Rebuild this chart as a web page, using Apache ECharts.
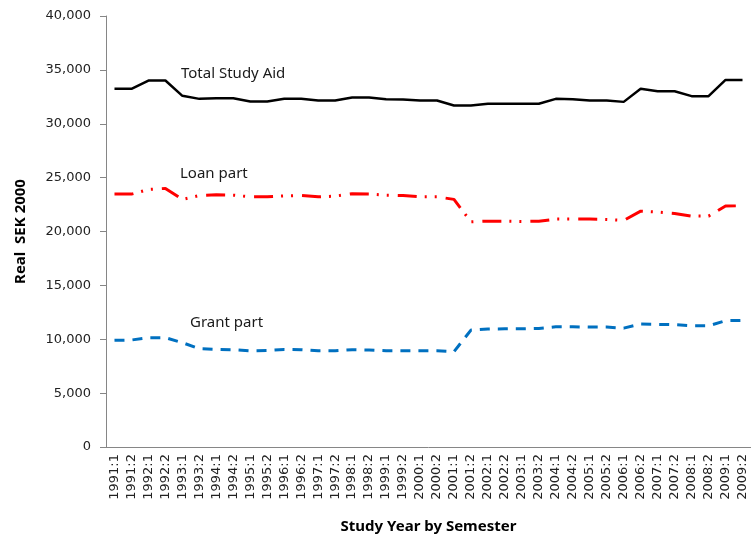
<!DOCTYPE html>
<html>
<head>
<meta charset="utf-8">
<script src="https://cdn.jsdelivr.net/npm/echarts@6/dist/echarts.min.js"></script>
<style>
  html, body { margin: 0; padding: 0; background: #fff; }
  #chart { width: 751px; height: 543px; }
</style>
</head>
<body>
<div id="chart"></div>
<script>
const years = [];
for (let y = 1991; y <= 2009; y++) { years.push(y + ':1', y + ':2'); }

const totalAid = [33240, 33240, 34010, 34010, 32590, 32310, 32370, 32370, 32070, 32070,
    32310, 32310, 32160, 32160, 32440, 32440, 32280, 32250, 32160, 32160,
    31700, 31700, 31850, 31850, 31850, 31850, 32310, 32280, 32160, 32160,
    32030, 33240, 33020, 33020, 32560, 32560, 34070, 34070];
const loanPart = [23470, 23470, 23900, 24000, 22980, 23340, 23400, 23370, 23220, 23220,
    23300, 23340, 23220, 23280, 23500, 23470, 23370, 23340, 23220, 23220,
    22980, 20900, 20960, 20960, 20930, 20960, 21150, 21150, 21150, 21120,
    21030, 21890, 21800, 21670, 21430, 21430, 22360, 22390];
const grantPart = [9900, 9930, 10140, 10140, 9680, 9120, 9060, 9030, 8930, 8960,
    9060, 9030, 8930, 8930, 9030, 9000, 8930, 8930, 8930, 8930,
    8840, 10850, 10950, 10970, 10970, 11000, 11160, 11160, 11130, 11130,
    11030, 11410, 11380, 11350, 11250, 11250, 11720, 11750];

const chart = echarts.init(document.getElementById('chart'));
const labelFont = { fontFamily: 'Noto Sans', fontSize: 15, fill: '#1a1a1a' };

chart.setOption({
    animation: false,
    grid: { left: 106, top: 16, width: 646, bottom: 96 },
    xAxis: {
        type: 'category',
        data: years,
        boundaryGap: true,
        name: 'Study Year by Semester',
        nameLocation: 'middle',
        nameGap: 72,
        nameTextStyle: { fontFamily: 'Noto Sans', fontWeight: 'bold', fontSize: 15, color: '#000' },
        axisLine: { lineStyle: { color: '#868686', width: 1 } },
        axisTick: { alignWithLabel: false, length: 5, lineStyle: { color: '#868686' } },
        axisLabel: { rotate: 90, interval: 0, fontFamily: 'DejaVu Sans', fontSize: 13, color: '#222', margin: 7 }
    },
    yAxis: {
        type: 'value',
        min: 0,
        max: 40000,
        interval: 5000,
        name: 'Real  SEK 2000',
        nameLocation: 'middle',
        nameGap: 78,
        nameTextStyle: { fontFamily: 'Noto Sans', fontWeight: 'bold', fontSize: 15, color: '#000' },
        axisLine: { show: true, lineStyle: { color: '#868686', width: 1 } },
        axisTick: { show: true, length: 6, lineStyle: { color: '#868686' } },
        splitLine: { show: false },
        axisLabel: {
            fontFamily: 'DejaVu Sans', fontSize: 13, color: '#222', margin: 15,
            formatter: v => v.toLocaleString('en-US')
        }
    },
    series: [
        {
            name: 'Total Study Aid', type: 'line', data: totalAid, symbol: 'none',
            lineStyle: { color: '#000', width: 2.5 }
        },
        {
            name: 'Loan part', type: 'line', data: loanPart, symbol: 'none',
            lineStyle: { color: '#ff0000', width: 3, type: [19, 8, 2, 8, 2, 9] }
        },
        {
            name: 'Grant part', type: 'line', data: grantPart, symbol: 'none',
            lineStyle: { color: '#0070c0', width: 3, type: [10, 8] }
        }
    ],
    graphic: [
        { type: 'text', left: 181, top: 66, style: Object.assign({ text: 'Total Study Aid' }, labelFont) },
        { type: 'text', left: 180, top: 166, style: Object.assign({ text: 'Loan part' }, labelFont) },
        { type: 'text', left: 190, top: 315, style: Object.assign({ text: 'Grant part' }, labelFont) }
    ]
});
</script>
</body>
</html>
